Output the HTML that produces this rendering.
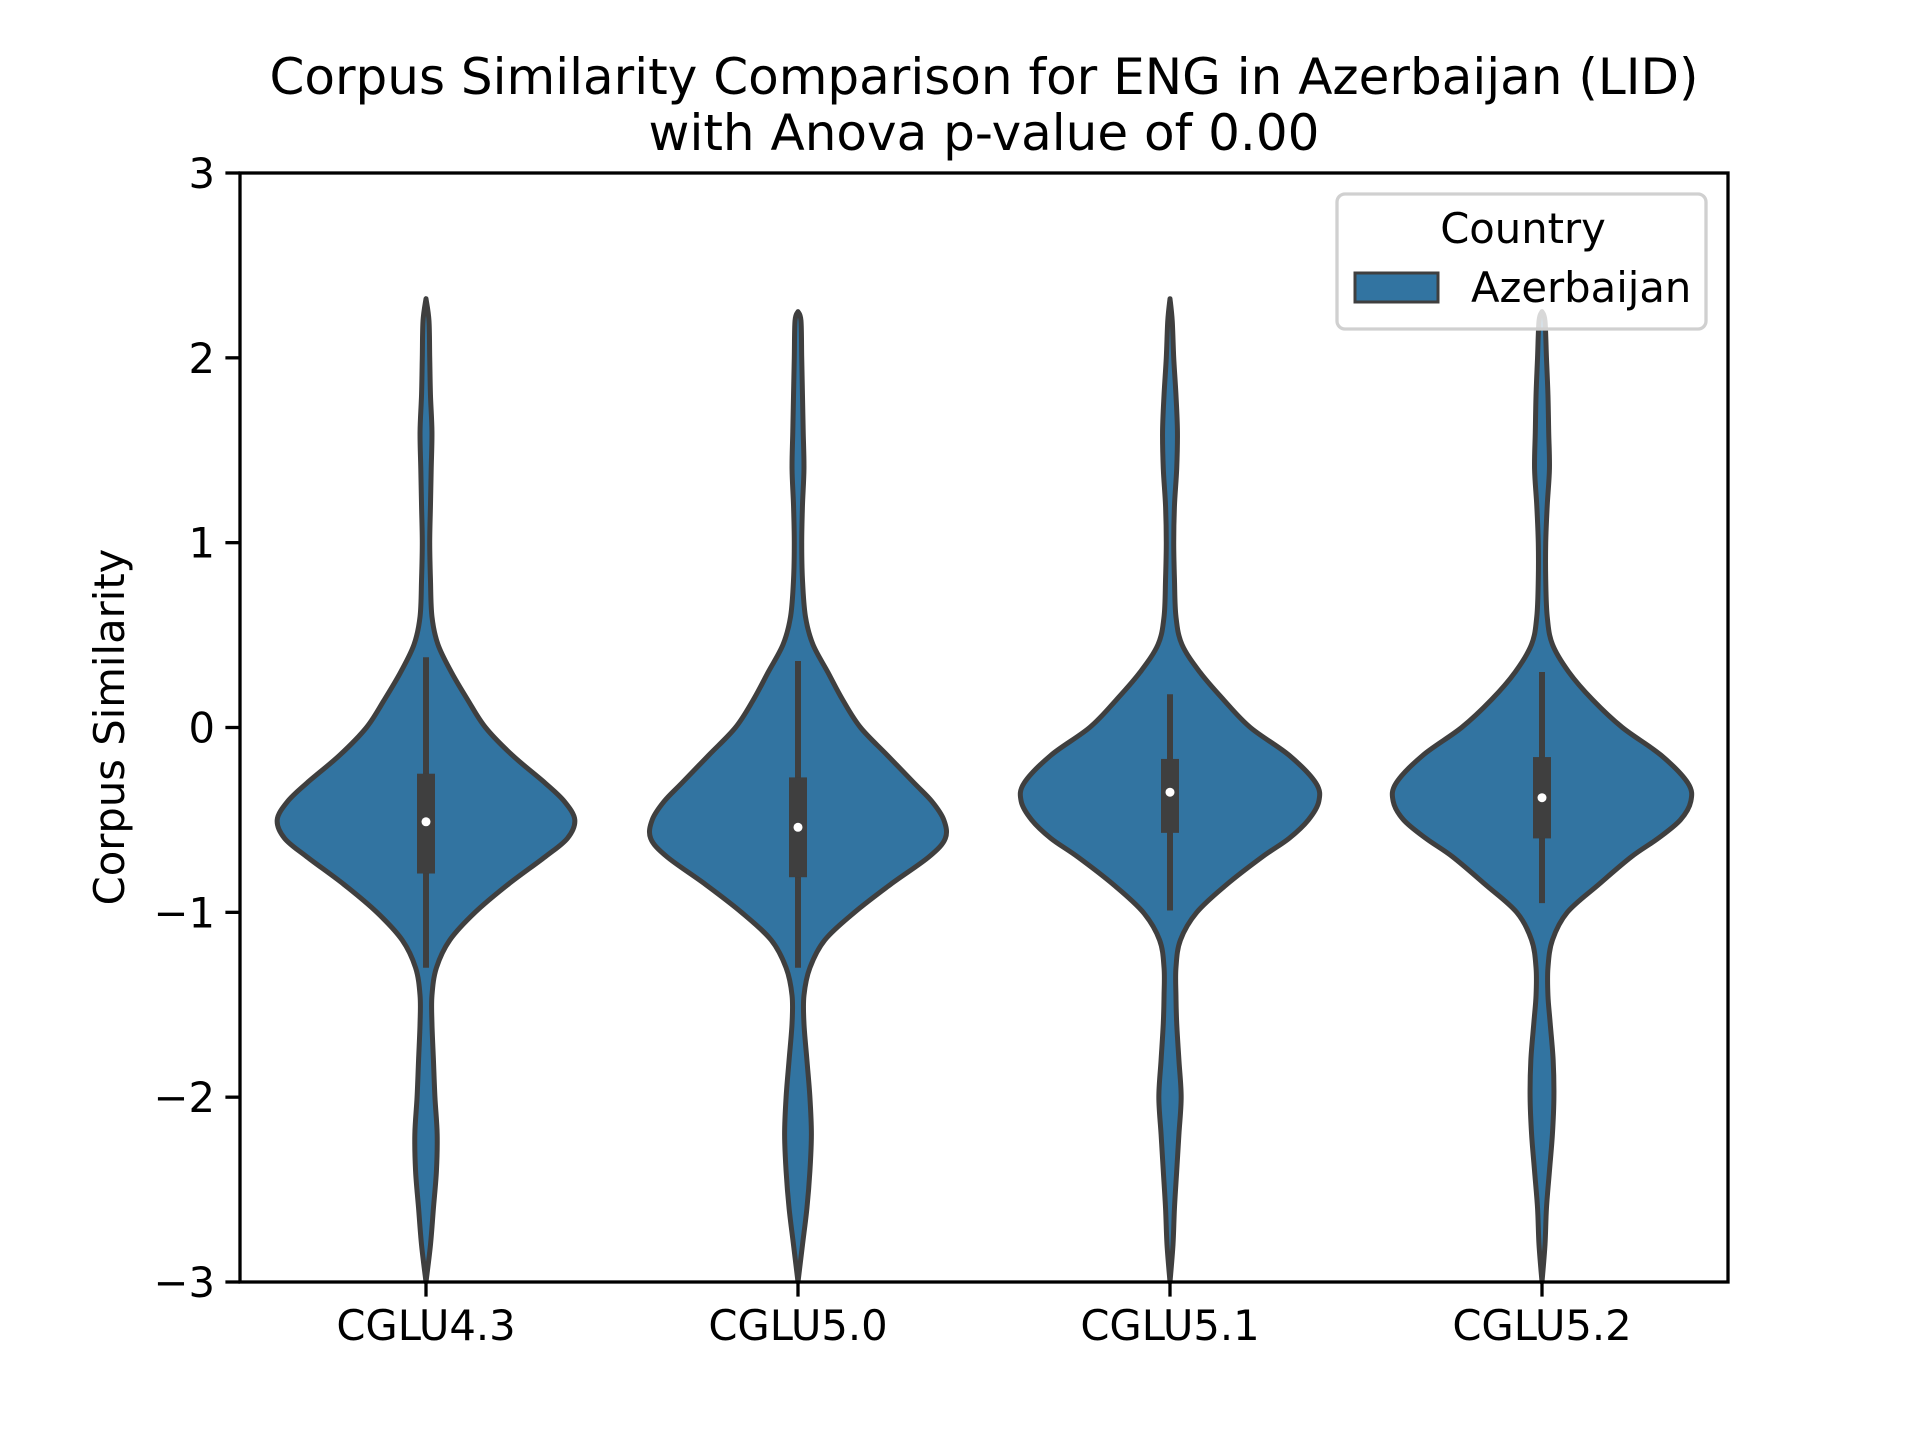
<!DOCTYPE html>
<html><head><meta charset="utf-8"><style>
html,body{margin:0;padding:0;background:#fff;}
svg{display:block;font-family:"DejaVu Sans","Liberation Sans",sans-serif;}
</style></head><body>
<svg id="chart" width="1920" height="1440" viewBox="0 0 1920 1440" xmlns="http://www.w3.org/2000/svg">
<rect width="1920" height="1440" fill="#fff"/>
<text x="984" y="94" font-size="50" text-anchor="middle">Corpus Similarity Comparison for ENG in Azerbaijan (LID)</text>
<text x="984" y="150" font-size="50" text-anchor="middle">with Anova p-value of 0.00</text>
<text transform="translate(124,727) rotate(-90)" font-size="41.7" text-anchor="middle">Corpus Similarity</text>
<g id="violins"></g>
<g id="axes"></g>
<g>
<rect x="1337" y="194" width="369" height="135" rx="8" fill="#fff" fill-opacity="0.8" stroke="#d0d0d0" stroke-width="3.3"/>
<text x="1523" y="243" font-size="41.7" text-anchor="middle">Country</text>
<rect x="1355" y="273" width="83" height="29" fill="#3274a1" stroke="#3f3f3f" stroke-width="3"/>
<text x="1471" y="302" font-size="41.7">Azerbaijan</text>
</g>
</svg>
<script>
const categories = ["CGLU4.3","CGLU5.0","CGLU5.1","CGLU5.2"];
const yTicks = [-3,-2,-1,0,1,2,3];
const yTickLabels = ["\u22123","\u22122","\u22121","0","1","2","3"];
const densityGrid = [2.2,2.0,1.8,1.6,1.4,1.2,1.0,0.8,0.6,0.45,0.3,0.15,0,-0.15,-0.3,-0.4,-0.5,-0.6,-0.7,-0.85,-1.0,-1.15,-1.3,-1.45,-1.6,-1.8,-2.0,-2.2,-2.4,-2.6,-2.8];
const tops = [2.32,2.25,2.32,2.25];
const bottoms = [-3,-3,-3,-3];
const density0 = [0.02,0.025,0.03,0.04,0.035,0.03,0.025,0.03,0.04,0.08,0.17,0.28,0.4,0.58,0.8,0.93,1.0,0.95,0.8,0.55,0.33,0.16,0.07,0.04,0.04,0.05,0.06,0.075,0.07,0.05,0.03];
const density1 = [0.02,0.025,0.03,0.035,0.04,0.03,0.025,0.03,0.05,0.1,0.2,0.3,0.42,0.6,0.78,0.9,0.98,0.99,0.88,0.62,0.38,0.18,0.08,0.04,0.04,0.06,0.08,0.09,0.08,0.06,0.03];
const density2 = [0.015,0.025,0.04,0.05,0.045,0.03,0.025,0.03,0.04,0.08,0.2,0.36,0.54,0.8,0.98,1.0,0.93,0.8,0.62,0.38,0.18,0.07,0.04,0.04,0.045,0.06,0.075,0.06,0.045,0.03,0.02];
const density3 = [0.02,0.03,0.04,0.045,0.05,0.035,0.025,0.025,0.035,0.07,0.18,0.34,0.54,0.8,0.98,1.0,0.93,0.78,0.6,0.38,0.17,0.07,0.04,0.04,0.055,0.075,0.08,0.07,0.05,0.03,0.02];
const q1 = [-0.79,-0.81,-0.57,-0.6];
const q3 = [-0.25,-0.27,-0.17,-0.16];
const medians = [-0.51,-0.54,-0.35,-0.38];
const whiskLow = [-1.3,-1.3,-0.99,-0.95];
const whiskHigh = [0.38,0.36,0.18,0.3];

const densities = [density0,density1,density2,density3];
const L=240,R=1728,T=173,B=1282;
const NS="http://www.w3.org/2000/svg";
const yScale = v => B - (v - (-3)) / 6 * (B - T);
const band = (R - L) / categories.length;
const xScale = i => L + band * (i + 0.5);
const maxHalf = band * 0.4;

function mk(tag, attrs, parent){
  const e=document.createElementNS(NS,tag);
  for(const k in attrs) e.setAttribute(k,attrs[k]);
  parent.appendChild(e); return e;
}
function smooth(pts){
  let d="M"+pts[0][0].toFixed(2)+","+pts[0][1].toFixed(2);
  for(let i=0;i<pts.length-1;i++){
    const p0=pts[Math.max(i-1,0)],p1=pts[i],p2=pts[i+1],p3=pts[Math.min(i+2,pts.length-1)];
    const c1=[p1[0]+(p2[0]-p0[0])/6,p1[1]+(p2[1]-p0[1])/6];
    const c2=[p2[0]-(p3[0]-p1[0])/6,p2[1]-(p3[1]-p1[1])/6];
    d+=" C"+c1[0].toFixed(2)+","+c1[1].toFixed(2)+" "+c2[0].toFixed(2)+","+c2[1].toFixed(2)+" "+p2[0].toFixed(2)+","+p2[1].toFixed(2);
  }
  return d;
}
const vg=document.getElementById("violins");
categories.forEach((c,i)=>{
  const cx=xScale(i);
  const right=[[cx,yScale(tops[i])]];
  densityGrid.forEach((y,j)=>{ if(y<tops[i] && y>bottoms[i]) right.push([cx+densities[i][j]*maxHalf,yScale(y)]); });
  right.push([cx,yScale(bottoms[i])]);
  const left=right.slice(1,-1).reverse().map(p=>[2*cx-p[0],p[1]]);
  const d=smooth(right)+" "+smooth([right[right.length-1]].concat(left,[right[0]])).replace(/^M[^ ]+/,"")+" Z";
  const g=mk("g",{},vg);
  
  
  const p=mk("path",{d:d,fill:"#3274a1",stroke:"#3f3f3f","stroke-width":5,"stroke-linejoin":"round"},g);
  
  
  const w=mk("line",{x1:cx,x2:cx,y1:yScale(whiskHigh[i]),y2:yScale(whiskLow[i]),stroke:"#3f3f3f","stroke-width":6},g);
  
  
  const b=mk("rect",{x:cx-9,y:yScale(q3[i]),width:18,height:yScale(q1[i])-yScale(q3[i]),fill:"#3f3f3f"},g);
  
  
  const m=mk("circle",{cx:cx,cy:yScale(medians[i]),r:4.5,fill:"#fff"},g);
  
  
});
const ag=document.getElementById("axes");
const fr=mk("rect",{x:L,y:T,width:R-L,height:B-T,fill:"none",stroke:"#000","stroke-width":3.3},ag);


yTicks.forEach((v,k)=>{
  const y=yScale(v);
  const t=mk("line",{x1:L-14.6,x2:L,y1:y,y2:y,stroke:"#000","stroke-width":3.3},ag);
  
  
  const tx=mk("text",{x:L-25,y:y+15,"font-size":41.7,"text-anchor":"end"},ag);
  tx.textContent=yTickLabels[k];
  
  
});
categories.forEach((c,i)=>{
  const x=xScale(i);
  const t=mk("line",{x1:x,x2:x,y1:B,y2:B+14.6,stroke:"#000","stroke-width":3.3},ag);
  
  
  const tx=mk("text",{x:x,y:B+58,"font-size":41.7,"text-anchor":"middle"},ag);
  tx.textContent=c;
  
  
});
</script>
</body></html>
